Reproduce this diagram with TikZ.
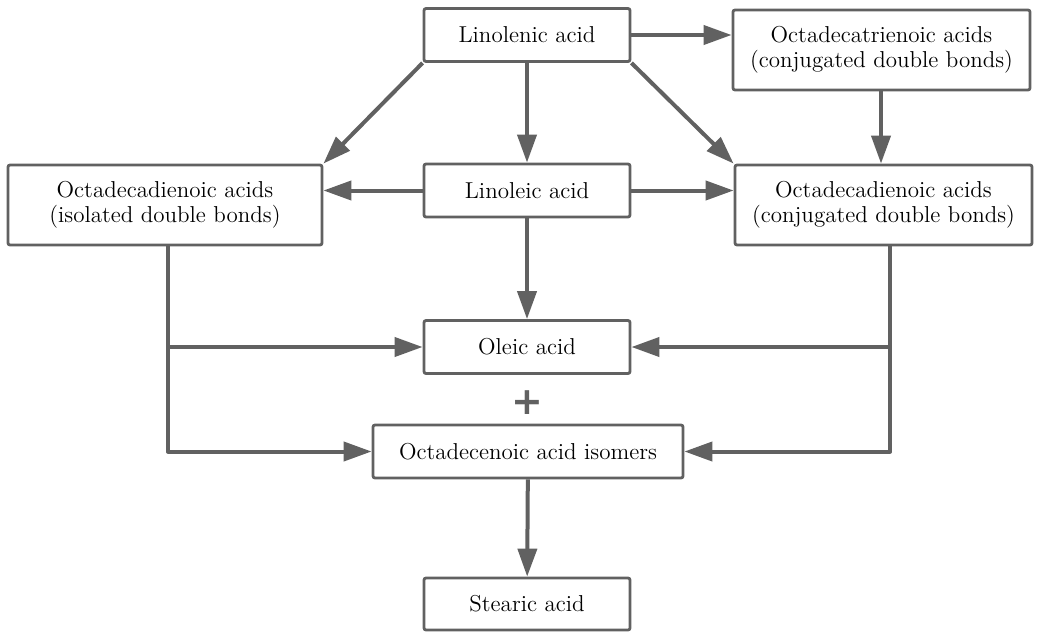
\documentclass[tikz,border=0pt]{standalone}
\usepackage{fontspec}
\newfontfamily\plusfont{DejaVu Sans}
\usetikzlibrary{arrows.meta}

\begin{document}
\begin{tikzpicture}[x=0.5pt, y=-0.5pt, >={Triangle[length=14pt,width=9.5pt]},
    every box/.style={draw=black!62, line width=1.4pt, rounded corners=1pt, fill=white,
        align=center, inner sep=0pt, font=\fontsize{11.5}{12.5}\selectfont},
    small box/.style={every box, minimum width=103pt, minimum height=26.5pt},
    wide box/.style={every box, minimum width=148.5pt, minimum height=40pt},
    link/.style={draw=black!62, line width=2pt, line join=round}]

    \useasboundingbox (0,0) rectangle (1048,632);

    % boxes
    \node [small box] (linolenic) at (527,35) {Linolenic acid};
    \node [wide box] (trienoic) at (881.5,50) {Octadecatrienoic acids\\(conjugated double bonds)};
    \node [wide box, minimum width=157pt] (isolated) at (165,205) {Octadecadienoic acids\\(isolated double bonds)};
    \node [small box] (linoleic) at (527,190.5) {Linoleic acid};
    \node [wide box] (conjugated) at (883.5,205) {Octadecadienoic acids\\(conjugated double bonds)};
    \node [small box] (oleic) at (527,347) {Oleic acid};
    \node [font=\plusfont\bfseries\fontsize{19}{19}\selectfont, text=black!62, inner sep=0pt] (plus) at (527,403) {+};
    \node [small box, minimum width=155pt] (isomers) at (528,451.5) {Octadecenoic acid isomers};
    \node [small box, minimum height=26pt] (stearic) at (527,604) {Stearic acid};

    % arrows
    \draw [link, ->] (linolenic) -- (trienoic.west |- linolenic);
    \draw [link, ->] (linolenic) -- (linoleic);
    \draw [link, ->] (linolenic.south west) -- (isolated.north east);
    \draw [link, ->] (linolenic.south east) -- (conjugated.north west);
    \draw [link, ->] (trienoic.south -| 881,0) -- (conjugated.north -| 881,0);
    \draw [link, ->] (linoleic) -- (isolated.east |- linoleic);
    \draw [link, ->] (linoleic) -- (conjugated.west |- linoleic);
    \draw [link, ->] (linoleic) -- (oleic);
    \draw [link, ->] (isomers) -- (stearic);

    % side branches
    \coordinate (left) at (168,0);
    \coordinate (right) at (890,0);
    \draw [link, ->] (isolated.south -| left) |- (isomers.west);
    \draw [link, ->] (left |- oleic) -- (oleic.west);
    \draw [link, ->] (conjugated.south -| right) |- (isomers.east);
    \draw [link, ->] (right |- oleic) -- (oleic.east);

\end{tikzpicture}
\end{document}
